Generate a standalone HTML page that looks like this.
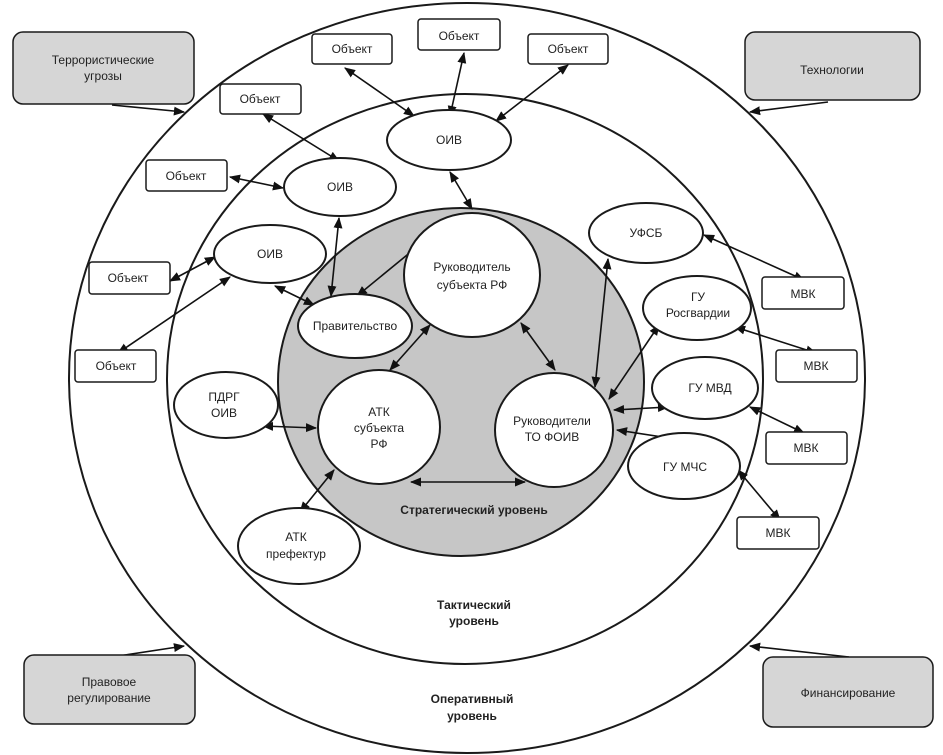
<!DOCTYPE html>
<html><head><meta charset="utf-8"><style>
html,body{margin:0;padding:0;background:#fff;}
svg{display:block;}
text{font-family:"Liberation Sans",sans-serif;font-size:12px;fill:#222;text-anchor:middle;}
.b{font-weight:bold;}
</style></head><body>
<svg width="943" height="755" viewBox="0 0 943 755" xmlns="http://www.w3.org/2000/svg">
<defs>
<marker id="a" viewBox="0 0 10 10" refX="9" refY="5" markerWidth="7" markerHeight="7" orient="auto-start-reverse"><path d="M0,1 L10,5 L0,9 z" fill="#111"/></marker>
</defs>
<g fill="none" stroke="#1a1a1a" stroke-width="2">
<ellipse cx="467" cy="378" rx="398" ry="375"/>
<ellipse cx="465" cy="379" rx="298" ry="285"/>
<ellipse cx="461" cy="382" rx="183" ry="174" fill="#c6c6c6"/>
</g>
<g stroke="#111" stroke-width="1.6" fill="none">
<line x1="112" y1="105" x2="184" y2="112" marker-end="url(#a)"/>
<line x1="828" y1="102" x2="750" y2="112" marker-end="url(#a)"/>
<line x1="112" y1="657" x2="184" y2="646" marker-end="url(#a)"/>
<line x1="849" y1="657" x2="750" y2="646" marker-end="url(#a)"/>
<g marker-start="url(#a)" marker-end="url(#a)">
<line x1="345" y1="68" x2="414" y2="116"/>
<line x1="464" y1="53" x2="450" y2="116"/>
<line x1="568" y1="65" x2="496" y2="121"/>
<line x1="450" y1="172" x2="472" y2="209"/>
<line x1="263" y1="114" x2="339" y2="161"/>
<line x1="230" y1="177" x2="283" y2="188"/>
<line x1="339" y1="218" x2="331" y2="296"/>
<line x1="215" y1="257" x2="170" y2="281"/>
<line x1="230" y1="277" x2="118" y2="353"/>
<line x1="275" y1="286" x2="314" y2="305"/>
<line x1="430" y1="325" x2="390" y2="370"/>
<line x1="521" y1="323" x2="555" y2="370"/>
<line x1="263" y1="426" x2="316" y2="428"/>
<line x1="411" y1="482" x2="525" y2="482"/>
<line x1="334" y1="470" x2="300" y2="512"/>
<line x1="608" y1="259" x2="595" y2="387"/>
<line x1="659" y1="325" x2="609" y2="399"/>
<line x1="668" y1="407" x2="614" y2="410"/>
<line x1="682" y1="440" x2="617" y2="430"/>
<line x1="704" y1="235" x2="804" y2="280"/>
<line x1="735" y1="327" x2="816" y2="353"/>
<line x1="750" y1="407" x2="804" y2="433"/>
<line x1="738" y1="470" x2="780" y2="520"/>
</g>
<line x1="429" y1="237" x2="357" y2="296" marker-end="url(#a)"/>
</g>
<g stroke="#1a1a1a" stroke-width="2" fill="#fff">
<ellipse cx="472" cy="275" rx="68" ry="62"/>
<ellipse cx="355" cy="326" rx="57" ry="32"/>
<ellipse cx="379" cy="427" rx="61" ry="57"/>
<ellipse cx="554" cy="430" rx="59" ry="57"/>
<ellipse cx="449" cy="140" rx="62" ry="30"/>
<ellipse cx="340" cy="187" rx="56" ry="29"/>
<ellipse cx="270" cy="254" rx="56" ry="29"/>
<ellipse cx="226" cy="405" rx="52" ry="33"/>
<ellipse cx="299" cy="546" rx="61" ry="38"/>
<ellipse cx="646" cy="233" rx="57" ry="30"/>
<ellipse cx="697" cy="308" rx="54" ry="32"/>
<ellipse cx="705" cy="388" rx="53" ry="31"/>
<ellipse cx="684" cy="466" rx="56" ry="33"/>
</g>
<g stroke="#1a1a1a" stroke-width="1.5" fill="#fff">
<rect x="312" y="34" width="80" height="30" rx="3"/>
<rect x="418" y="19" width="82" height="31" rx="3"/>
<rect x="528" y="34" width="80" height="30" rx="3"/>
<rect x="220" y="84" width="81" height="30" rx="3"/>
<rect x="146" y="160" width="81" height="31" rx="3"/>
<rect x="89" y="262" width="81" height="32" rx="3"/>
<rect x="75" y="350" width="81" height="32" rx="3"/>
<rect x="762" y="277" width="82" height="32" rx="3"/>
<rect x="776" y="350" width="81" height="32" rx="3"/>
<rect x="766" y="432" width="81" height="32" rx="3"/>
<rect x="737" y="517" width="82" height="32" rx="3"/>
</g>
<g stroke="#1a1a1a" stroke-width="1.5" fill="#d6d6d6">
<rect x="13" y="32" width="181" height="72" rx="10"/>
<rect x="745" y="32" width="175" height="68" rx="10"/>
<rect x="24" y="655" width="171" height="69" rx="10"/>
<rect x="763" y="657" width="170" height="70" rx="10"/>
</g>
<text x="103" y="64">Террористические</text><text x="103" y="80">угрозы</text>
<text x="832" y="74">Технологии</text>
<text x="109" y="686">Правовое</text><text x="109" y="702">регулирование</text>
<text x="848" y="697">Финансирование</text>
<text x="472" y="271">Руководитель</text><text x="472" y="289">субъекта РФ</text>
<text x="355" y="330">Правительство</text>
<text x="379" y="416">АТК</text><text x="379" y="432">субъекта</text><text x="379" y="448">РФ</text>
<text x="552" y="425">Руководители</text><text x="552" y="441">ТО ФОИВ</text>
<text x="449" y="144">ОИВ</text>
<text x="340" y="191">ОИВ</text>
<text x="270" y="258">ОИВ</text>
<text x="224" y="401">ПДРГ</text><text x="224" y="417">ОИВ</text>
<text x="296" y="541">АТК</text><text x="296" y="558">префектур</text>
<text x="646" y="237">УФСБ</text>
<text x="698" y="301">ГУ</text><text x="698" y="317">Росгвардии</text>
<text x="710" y="392">ГУ МВД</text>
<text x="685" y="471">ГУ МЧС</text>
<text x="352" y="53">Объект</text>
<text x="459" y="40">Объект</text>
<text x="568" y="53">Объект</text>
<text x="260" y="103">Объект</text>
<text x="186" y="180">Объект</text>
<text x="128" y="282">Объект</text>
<text x="116" y="370">Объект</text>
<text x="803" y="298">МВК</text>
<text x="816" y="370">МВК</text>
<text x="806" y="452">МВК</text>
<text x="778" y="537">МВК</text>
<text class="b" x="474" y="514">Стратегический уровень</text>
<text class="b" x="474" y="609">Тактический</text><text class="b" x="474" y="625">уровень</text>
<text class="b" x="472" y="703">Оперативный</text><text class="b" x="472" y="720">уровень</text>
</svg>
</body></html>
